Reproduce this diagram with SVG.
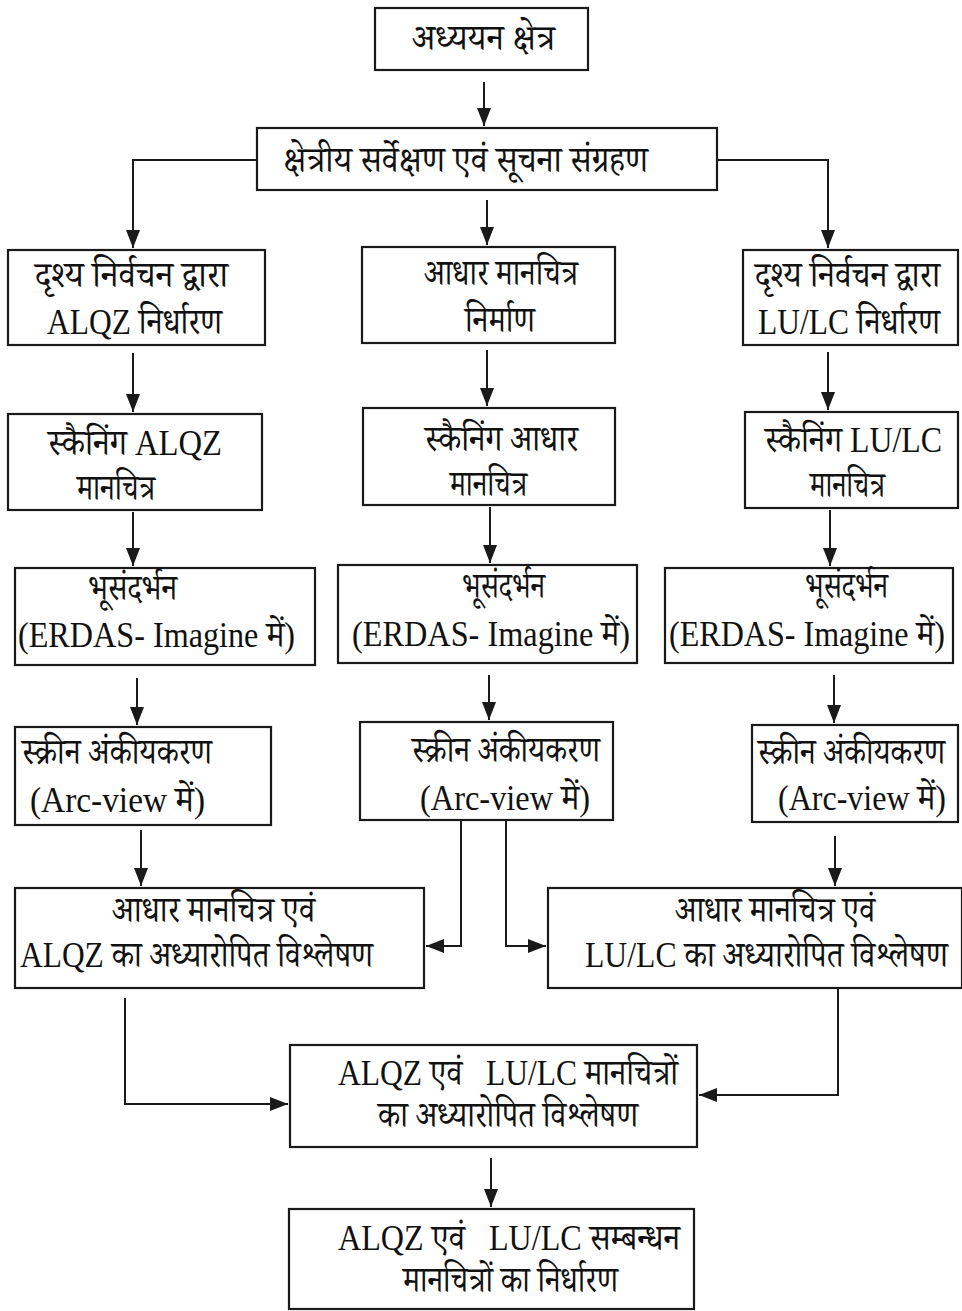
<svg xmlns="http://www.w3.org/2000/svg" width="962" height="1311" viewBox="0 0 962 1311">
<style>
.box{fill:#fff;stroke:#1a1a1a;stroke-width:2.2}
.t{font-family:"Liberation Serif","Noto Serif Devanagari","Noto Sans Devanagari","Lohit Devanagari",serif;font-size:36px;fill:#111}
.e{text-anchor:end}
.pre{white-space:pre}
.c{fill:none;stroke:#1a1a1a;stroke-width:2}
</style>
<defs>
<marker id="ar" markerUnits="userSpaceOnUse" markerWidth="18" markerHeight="14" viewBox="0 0 18 14" refX="18" refY="7" orient="auto">
<path d="M0,0 L18,7 L0,14 Z" fill="#1a1a1a"/>
</marker>
</defs>
<rect width="962" height="1311" fill="#fff"/>

<g id="connectors">
<path class="c" d="M484,82 V126" marker-end="url(#ar)"/>
<path class="c" d="M257,160 H133 V248" marker-end="url(#ar)"/>
<path class="c" d="M487,200 V245" marker-end="url(#ar)"/>
<path class="c" d="M717,160 H828 V248" marker-end="url(#ar)"/>
<path class="c" d="M133,353 V412" marker-end="url(#ar)"/>
<path class="c" d="M487,350 V406" marker-end="url(#ar)"/>
<path class="c" d="M828,352 V410" marker-end="url(#ar)"/>
<path class="c" d="M133,512 V566" marker-end="url(#ar)"/>
<path class="c" d="M490,507 V563" marker-end="url(#ar)"/>
<path class="c" d="M830,510 V566" marker-end="url(#ar)"/>
<path class="c" d="M137,678 V725" marker-end="url(#ar)"/>
<path class="c" d="M489,675 V720" marker-end="url(#ar)"/>
<path class="c" d="M834,675 V723" marker-end="url(#ar)"/>
<path class="c" d="M141,830 V886" marker-end="url(#ar)"/>
<path class="c" d="M835,836 V886" marker-end="url(#ar)"/>
<path class="c" d="M461,820 V946 H426" marker-end="url(#ar)"/>
<path class="c" d="M506,820 V946 H546" marker-end="url(#ar)"/>
<path class="c" d="M125,998 V1104 H288" marker-end="url(#ar)"/>
<path class="c" d="M838,988 V1095 H699" marker-end="url(#ar)"/>
<path class="c" d="M491,1158 V1207" marker-end="url(#ar)"/>
</g>

<g id="n1"><rect class="box" x="375" y="8" width="213" height="62"/>
<text class="t" x="412" y="50" textLength="143" lengthAdjust="spacingAndGlyphs">अध्ययन क्षेत्र</text></g>

<g id="n2"><rect class="box" x="257" y="128" width="460" height="62"/>
<text class="t" x="283" y="172" textLength="365" lengthAdjust="spacingAndGlyphs">क्षेत्रीय सर्वेक्षण एवं सूचना संग्रहण</text></g>

<g id="n3"><rect class="box" x="8" y="250" width="257" height="95"/>
<text class="t" x="35" y="287" textLength="193" lengthAdjust="spacingAndGlyphs">दृश्य निर्वचन द्वारा</text>
<text class="t" x="47" y="334" textLength="175" lengthAdjust="spacingAndGlyphs">ALQZ निर्धारण</text></g>

<g id="n4"><rect class="box" x="362" y="247" width="253" height="96"/>
<text class="t" x="424" y="285" textLength="154" lengthAdjust="spacingAndGlyphs">आधार मानचित्र</text>
<text class="t" x="465" y="332" textLength="70" lengthAdjust="spacingAndGlyphs">निर्माण</text></g>

<g id="n5"><rect class="box" x="743" y="250" width="215" height="95"/>
<text class="t e" x="940" y="287" textLength="185" lengthAdjust="spacingAndGlyphs">दृश्य निर्वचन द्वारा</text>
<text class="t e" x="940" y="334" textLength="182" lengthAdjust="spacingAndGlyphs">LU/LC निर्धारण</text></g>

<g id="n6"><rect class="box" x="8" y="414" width="254" height="96"/>
<text class="t" x="48" y="455" textLength="174" lengthAdjust="spacingAndGlyphs">स्कैनिंग ALQZ</text>
<text class="t" x="77" y="500" textLength="78" lengthAdjust="spacingAndGlyphs">मानचित्र</text></g>

<g id="n7"><rect class="box" x="363" y="408" width="252" height="97"/>
<text class="t" x="425" y="451" textLength="153" lengthAdjust="spacingAndGlyphs">स्कैनिंग आधार</text>
<text class="t" x="450" y="496" textLength="77" lengthAdjust="spacingAndGlyphs">मानचित्र</text></g>

<g id="n8"><rect class="box" x="745" y="412" width="213" height="96"/>
<text class="t e" x="942" y="452" textLength="177" lengthAdjust="spacingAndGlyphs">स्कैनिंग LU/LC</text>
<text class="t e" x="885" y="497" textLength="75" lengthAdjust="spacingAndGlyphs">मानचित्र</text></g>

<g id="n9"><rect class="box" x="15" y="568" width="300" height="97"/>
<text class="t" x="88" y="600" textLength="89" lengthAdjust="spacingAndGlyphs">भूसंदर्भन</text>
<text class="t" x="18" y="647" textLength="277" lengthAdjust="spacingAndGlyphs">(ERDAS- Imagine में)</text></g>

<g id="n10"><rect class="box" x="338" y="565" width="299" height="98"/>
<text class="t" x="462" y="598" textLength="83" lengthAdjust="spacingAndGlyphs">भूसंदर्भन</text>
<text class="t" x="352" y="646" textLength="278" lengthAdjust="spacingAndGlyphs">(ERDAS- Imagine में)</text></g>

<g id="n11"><rect class="box" x="665" y="568" width="288" height="95"/>
<text class="t e" x="888" y="598" textLength="83" lengthAdjust="spacingAndGlyphs">भूसंदर्भन</text>
<text class="t e" x="945" y="646" textLength="276" lengthAdjust="spacingAndGlyphs">(ERDAS- Imagine में)</text></g>

<g id="n12"><rect class="box" x="15" y="727" width="256" height="98"/>
<text class="t" x="22" y="764" textLength="190" lengthAdjust="spacingAndGlyphs">स्क्रीन अंकीयकरण</text>
<text class="t" x="30" y="812" textLength="175" lengthAdjust="spacingAndGlyphs">(Arc-view में)</text></g>

<g id="n13"><rect class="box" x="360" y="722" width="253" height="98"/>
<text class="t" x="412" y="762" textLength="188" lengthAdjust="spacingAndGlyphs">स्क्रीन अंकीयकरण</text>
<text class="t" x="420" y="810" textLength="170" lengthAdjust="spacingAndGlyphs">(Arc-view में)</text></g>

<g id="n14"><rect class="box" x="752" y="725" width="206" height="97"/>
<text class="t e" x="945" y="764" textLength="187" lengthAdjust="spacingAndGlyphs">स्क्रीन अंकीयकरण</text>
<text class="t e" x="946" y="810" textLength="168" lengthAdjust="spacingAndGlyphs">(Arc-view में)</text></g>

<g id="n15"><rect class="box" x="15" y="888" width="409" height="100"/>
<text class="t" x="112" y="922" textLength="203" lengthAdjust="spacingAndGlyphs">आधार मानचित्र एवं</text>
<text class="t" x="20" y="967" textLength="353" lengthAdjust="spacingAndGlyphs">ALQZ का अध्यारोपित विश्लेषण</text></g>

<g id="n16"><rect class="box" x="548" y="888" width="414" height="100"/>
<text class="t e" x="875" y="922" textLength="200" lengthAdjust="spacingAndGlyphs">आधार मानचित्र एवं</text>
<text class="t e" x="948" y="967" textLength="363" lengthAdjust="spacingAndGlyphs">LU/LC का अध्यारोपित विश्लेषण</text></g>

<g id="n17"><rect class="box" x="290" y="1045" width="407" height="102"/>
<text class="t pre" x="338" y="1085" textLength="340" lengthAdjust="spacingAndGlyphs">ALQZ एवं   LU/LC मानचित्रों</text>
<text class="t" x="378" y="1127" textLength="260" lengthAdjust="spacingAndGlyphs">का अध्यारोपित विश्लेषण</text></g>

<g id="n18"><rect class="box" x="289" y="1209" width="405" height="100"/>
<text class="t pre" x="338" y="1250" textLength="342" lengthAdjust="spacingAndGlyphs">ALQZ एवं   LU/LC सम्बन्धन</text>
<text class="t" x="403" y="1292" textLength="215" lengthAdjust="spacingAndGlyphs">मानचित्रों का निर्धारण</text></g>
</svg>
